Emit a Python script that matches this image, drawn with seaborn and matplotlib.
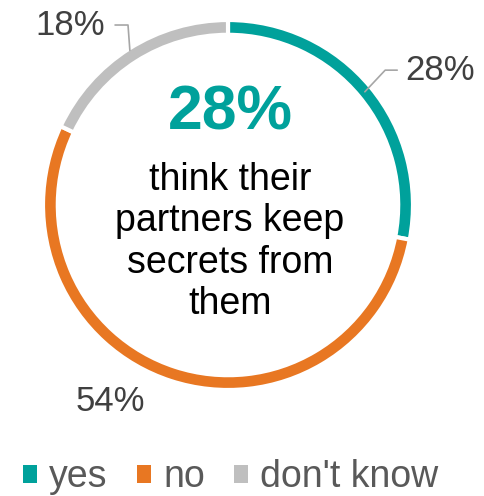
import numpy as np
import seaborn as sns
import matplotlib.pyplot as plt
from matplotlib.patches import Patch

# data
answers = ['yes', 'no', "don't know"]
shares = [28, 54, 18]
colors = ['#00A19B', '#E87722', '#BFBFBF']
headline = '28%'
caption = 'think their\npartners keep\nsecrets from\nthem'

sns.set_theme(style='white')
plt.rcParams['font.family'] = ['Liberation Sans', 'DejaVu Sans']

fig = plt.figure(figsize=(4.85, 4.96), dpi=100)
ax = fig.add_axes([0, 0, 1, 1])

# ring centre and radius in pixels, mapped so 1 data unit = R px
cx, cy, R = 228, 205, 185

wedges, _ = ax.pie(shares, colors=colors, startangle=90, counterclock=False,
                   radius=1, wedgeprops=dict(width=0.08, edgecolor='white', linewidth=3))
ax.set_xlim(-cx / R, (485 - cx) / R)
ax.set_ylim(-(496 - cy) / R, cy / R)
ax.axis('off')

lbl_color = '#404040'
line_color = '#A6A6A6'
for w, s, name in zip(wedges, shares, answers):
    mid = np.deg2rad((w.theta1 + w.theta2) / 2)
    if name == 'yes':
        x0, y0 = 0.96 * np.cos(mid), 0.96 * np.sin(mid)
        x1, y1 = x0 + 0.11, y0 + 0.117
        ax.plot([x0, x1, x1 + 0.065], [y0, y1, y1], color=line_color, lw=1.2)
        ax.text(x1 + 0.108, y1, f'{s}%', fontsize=25, color=lbl_color, ha='left', va='center')
    elif name == "don't know":
        x0, y0 = 0.99 * np.cos(mid), 0.99 * np.sin(mid)
        x1, y1 = x0 - 0.01, y0 + 0.137
        ax.plot([x0, x1, x1 - 0.07], [y0, y1, y1], color=line_color, lw=1.2)
        ax.text(x1 - 0.125, y1, f'{s}%', fontsize=25, color=lbl_color, ha='right', va='center')
    else:
        ax.text(-0.638, -1.06, f'{s}%', fontsize=25, color=lbl_color, ha='center', va='center')

ax.text(0.015, 0.50, headline, fontsize=45, fontweight='bold', color=colors[0],
        ha='center', va='center')
ax.text(0.01, -0.20, caption, fontsize=27, color='black', ha='center', va='center',
        linespacing=1.2)

handles = [Patch(facecolor=c, edgecolor='none') for c in colors]
leg = fig.legend(handles, answers, loc='center', bbox_to_anchor=(0.476, 0.038), ncol=3,
                 frameon=False, fontsize=27, handlelength=0.37, handleheight=0.37,
                 handletextpad=0.32, columnspacing=0.79, borderpad=0, borderaxespad=0)
for t in leg.get_texts():
    t.set_color('#595959')

fig.savefig('out.png', dpi=100)
